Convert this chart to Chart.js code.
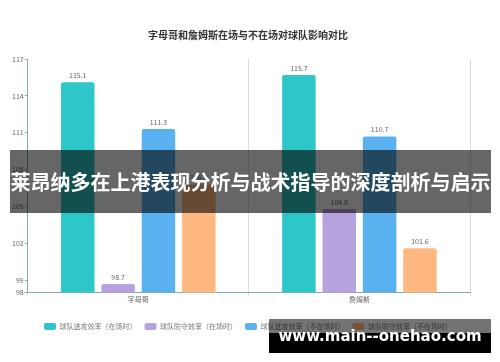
<!DOCTYPE html>
<html>
<head>
<meta charset="utf-8">
<script src="https://cdn.jsdelivr.net/npm/chart.js@4.4.1/dist/chart.umd.min.js"></script>
<style>
  html, body { margin: 0; padding: 0; background: #fff; }
  .wrap { position: relative; width: 500px; height: 362px; }
  .banner {
    position: absolute; left: 10px; top: 150px; width: 481px; height: 63px;
    background: rgba(0, 0, 0, 0.6); color: #fff;
    font: bold 20px "Noto Sans CJK SC", sans-serif;
    line-height: 63px; text-align: center; white-space: nowrap;
  }
  .mark-band {
    position: absolute; left: 269px; top: 319px; width: 222px; height: 14px;
    background: rgba(0, 0, 0, 0.55);
  }
  .mark-box {
    position: absolute; left: 269px; top: 333px; width: 222px; height: 20px;
    background: #000;
  }
  .mark-text {
    position: absolute; left: 269px; top: 326px; width: 222px; height: 20px;
    color: #fff; font: bold 15px "DejaVu Sans", sans-serif;
    line-height: 20px; text-align: center; white-space: nowrap;
  }
</style>
</head>
<body>
<div class="wrap">
  <canvas id="chart" width="500" height="362"></canvas>
  <div class="banner">莱昂纳多在上港表现分析与战术指导的深度剖析与启示</div>
  <div class="mark-band"></div>
  <div class="mark-box"></div>
  <div class="mark-text">www.main--onehao.com</div>
</div>
<script>
const players = ['字母哥', '詹姆斯'];
const offOn = [115.1, 115.7];
const defOn = [98.7, 104.8];
const offOff = [111.3, 110.7];
const defOff = [106.8, 101.6];
const yTicks = [98, 99, 102, 105, 108, 111, 114, 117];

const seriesNames = [
    '球队进攻效率（在场时）',
    '球队防守效率（在场时）',
    '球队进攻效率（不在场时）',
    '球队防守效率（不在场时）'
];
const colors = ['#2ec7c9', '#b6a2de', '#5ab1ef', '#ffb980'];
const values = [offOn, defOn, offOff, defOff];

const font = '"Noto Sans CJK SC", sans-serif';
const axisColor = '#86aab0';

// value labels above each bar
const barLabels = {
    id: 'barLabels',
    afterDatasetsDraw(chart) {
        const ctx = chart.ctx;
        ctx.save();
        ctx.font = '7px ' + font;
        ctx.fillStyle = '#666';
        ctx.textAlign = 'center';
        ctx.textBaseline = 'middle';
        chart.data.datasets.forEach((ds, i) => {
            chart.getDatasetMeta(i).data.forEach((bar, j) => {
                ctx.fillText(ds.data[j].toFixed(1), bar.x, bar.y - 7);
            });
        });
        ctx.restore();
    }
};

const data = {
    labels: players,
    datasets: values.map((v, i) => ({
        label: seriesNames[i],
        data: v,
        backgroundColor: colors[i],
        borderRadius: 2,
        categoryPercentage: 0.73,
        barPercentage: 0.83
    }))
};

const options = {
    responsive: false,
    animation: false,
    layout: {
        padding: { left: 8, right: 12, top: 0, bottom: 22 }
    },
    plugins: {
        title: {
            display: true,
            text: '字母哥和詹姆斯在场与不在场对球队影响对比',
            color: '#333',
            font: { family: font, size: 10, weight: 'bold' },
            padding: { top: 29, bottom: 18 }
        },
        legend: {
            position: 'bottom',
            labels: {
                color: '#777',
                font: { family: font, size: 7 },
                boxWidth: 12,
                boxHeight: 7,
                padding: 8,
                useBorderRadius: true,
                borderRadius: 2
            }
        },
        tooltip: { enabled: false }
    },
    scales: {
        x: {
            grid: { color: '#d5e0e2', tickLength: 3, offset: true },
            border: { color: axisColor },
            ticks: { color: '#666', font: { family: font, size: 7 }, padding: 0 },
            afterFit: axis => { axis.height += 11; }
        },
        y: {
            min: 98,
            max: 117,
            afterBuildTicks: axis => {
                axis.ticks = yTicks.map(v => ({ value: v }));
            },
            afterFit: axis => { axis.width = 19.7; },
            grid: { drawOnChartArea: false, tickLength: 3, color: axisColor },
            border: { color: axisColor },
            ticks: { color: '#666', font: { family: font, size: 7 }, padding: 1 }
        },
        // empty right-hand axis that only keeps the right margin
        yRight: {
            position: 'right',
            grid: { display: false },
            border: { display: false },
            ticks: { display: false },
            afterFit: axis => { axis.width = 18; }
        }
    }
};

new Chart(document.getElementById('chart'), {
    type: 'bar',
    data: data,
    options: options,
    plugins: [barLabels]
});
</script>
</body>
</html>
